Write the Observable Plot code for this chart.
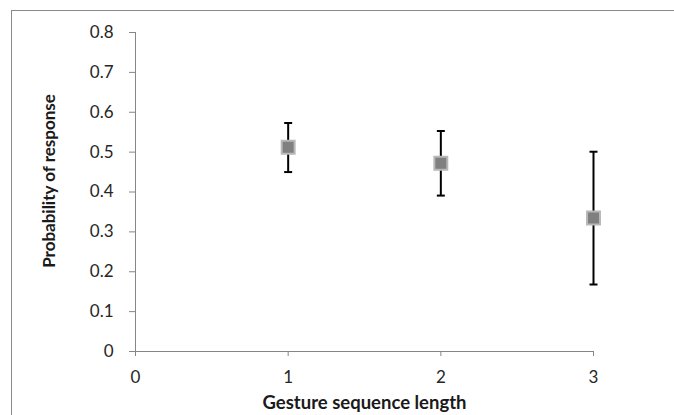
<!DOCTYPE html>
<html><head><meta charset="utf-8">
<script src="https://cdn.jsdelivr.net/npm/d3@7"></script>
<script src="https://cdn.jsdelivr.net/npm/@observablehq/plot@0.6"></script>
<style>
html,body{margin:0;padding:0;background:#fff;overflow:hidden;}
#wrap{position:relative;width:674px;height:415px;}
#frame{position:absolute;left:11px;top:10px;width:720px;height:500px;border:1px solid #8a8a8a;box-sizing:border-box;}
#chart{position:absolute;left:0;top:0;}
</style>
</head><body>
<div id="wrap"><div id="frame"></div><div id="chart"></div></div>
<script>
const lengths = [1, 2, 3];
const probs = [0.512, 0.472, 0.335];
const upper = [0.573, 0.553, 0.501];
const lower = [0.450, 0.391, 0.168];
const xTicks = [0, 1, 2, 3];
const yTicks = [0, 0.1, 0.2, 0.3, 0.4, 0.5, 0.6, 0.7, 0.8];

const data = lengths.map((x, i) => ({x, p: probs[i], hi: upper[i], lo: lower[i]}));

const capSymbol = {
  draw(ctx, size) {
    const w = Math.sqrt(size) / 2;
    ctx.moveTo(-w, 0); ctx.lineTo(w, 0);
  }
};

const font = "Lato, 'Open Sans', sans-serif";
const axisColor = "#868686";

const chart = Plot.plot({
  width: 674, height: 415,
  marginLeft: 135, marginRight: 81, marginTop: 32, marginBottom: 64,
  style: {fontFamily: font, fontSize: "17px", color: "#262626", background: "transparent"},
  x: {domain: [0, 3]},
  y: {domain: [0, 0.8]},
  marks: [
    Plot.ruleX([0], {y1: 0, y2: 0.8, stroke: axisColor}),
    Plot.ruleY([0], {x1: 0, x2: 3, stroke: axisColor}),
    Plot.axisY({ticks: yTicks, tickSize: 6, tickPadding: 16, stroke: axisColor, fontSize: 17,
      tickFormat: d => d === 0 ? "0" : d.toFixed(1), fill: "#262626",
      label: "Probability of response", labelAnchor: "center", labelArrow: "none", labelOffset: 90}),
    Plot.axisX({ticks: xTicks, tickSize: 5, tickPadding: 14, stroke: axisColor, fontSize: 17,
      tickFormat: d => String(d), fill: "#262626",
      label: "Gesture sequence length", labelAnchor: "center", labelArrow: "none", labelOffset: 57}),
    Plot.ruleX(data, {x: "x", y1: "lo", y2: "hi", stroke: "#000", strokeWidth: 2}),
    Plot.dot(data, {x: "x", y: "hi", symbol: capSymbol, r: 4.5, stroke: "#000", strokeWidth: 2, fill: "none"}),
    Plot.dot(data, {x: "x", y: "lo", symbol: capSymbol, r: 4.5, stroke: "#000", strokeWidth: 2, fill: "none"}),
    Plot.dot(data, {x: "x", y: "p", symbol: "square", r: 7.3, fill: "#808080", stroke: "#b8b8b8", strokeWidth: 2})
  ]
});
document.getElementById("chart").appendChild(chart);
d3.select(chart).selectAll("[aria-label='y-axis label'] text")
  .style("font-weight", "bold").style("font-size", "17px").style("fill", "#1a1a1a")
  .attr("transform", function() { return (this.getAttribute("transform") || "") + " translate(11,-3)"; });
d3.select(chart).selectAll("[aria-label='x-axis label'] text")
  .style("font-weight", "bold").style("font-size", "18.5px").style("fill", "#1a1a1a");
</script>
</body></html>
